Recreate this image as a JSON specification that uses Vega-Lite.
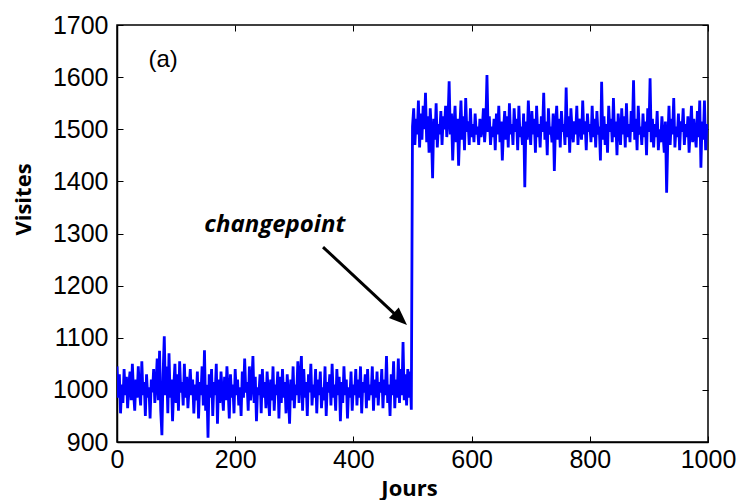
{
"$schema": "https://vega.github.io/schema/vega-lite/v6.json",
"width": 591,
"height": 417,
"autosize": {"type": "none"},
"padding": {"left": 117, "top": 25, "right": 32, "bottom": 58},
"background": "white",
"config": {
  "view": {"stroke": "black", "strokeWidth": 1.5},
  "axis": {
    "grid": false,
    "domainColor": "black",
    "domainWidth": 1.5,
    "tickColor": "black",
    "tickWidth": 1,
    "tickSize": -6,
    "labelFont": "Liberation Sans",
    "labelFontSize": 25,
    "labelColor": "black",
    "labelFlush": false,
    "format": "d",
    "titleFont": "Open Sans",
    "titleFontWeight": "bold",
    "titleFontSize": 22,
    "titleColor": "black"
  }
},
"datasets": {
"series": [
{"day":0,"visits":1045},{"day":2,"visits":985},{"day":4,"visits":1030},{"day":6,"visits":955},{"day":8,"visits":1010},{"day":10,"visits":975},{"day":12,"visits":1040},{"day":14,"visits":990},{"day":16,"visits":1025},{"day":18,"visits":965},
{"day":20,"visits":1010},{"day":22,"visits":1035},{"day":24,"visits":980},{"day":26,"visits":1050},{"day":28,"visits":995},{"day":30,"visits":960},{"day":32,"visits":1020},{"day":34,"visits":985},{"day":36,"visits":1045},{"day":38,"visits":1000},
{"day":40,"visits":970},{"day":42,"visits":1055},{"day":44,"visits":990},{"day":46,"visits":1015},{"day":48,"visits":950},{"day":50,"visits":1030},{"day":52,"visits":985},{"day":54,"visits":1005},{"day":56,"visits":945},{"day":58,"visits":1020},
{"day":60,"visits":995},{"day":62,"visits":1040},{"day":64,"visits":975},{"day":66,"visits":1010},{"day":68,"visits":1060},{"day":70,"visits":980},{"day":72,"visits":1075},{"day":74,"visits":960},{"day":76,"visits":913},{"day":78,"visits":1030},
{"day":80,"visits":1103},{"day":82,"visits":990},{"day":84,"visits":1045},{"day":86,"visits":955},{"day":88,"visits":1070},{"day":90,"visits":985},{"day":92,"visits":1020},{"day":94,"visits":940},{"day":96,"visits":1005},{"day":98,"visits":1050},
{"day":100,"visits":975},{"day":102,"visits":1030},{"day":104,"visits":960},{"day":106,"visits":1055},{"day":108,"visits":995},{"day":110,"visits":1015},{"day":112,"visits":970},{"day":114,"visits":1050},{"day":116,"visits":985},{"day":118,"visits":1025},
{"day":120,"visits":965},{"day":122,"visits":1005},{"day":124,"visits":1040},{"day":126,"visits":990},{"day":128,"visits":1020},{"day":130,"visits":955},{"day":132,"visits":1010},{"day":134,"visits":980},{"day":136,"visits":1035},{"day":138,"visits":945},
{"day":140,"visits":1015},{"day":142,"visits":990},{"day":144,"visits":1045},{"day":146,"visits":970},{"day":148,"visits":1076},{"day":150,"visits":960},{"day":152,"visits":1010},{"day":154,"visits":908},{"day":156,"visits":1030},{"day":158,"visits":985},
{"day":160,"visits":1040},{"day":162,"visits":950},{"day":164,"visits":1015},{"day":166,"visits":990},{"day":168,"visits":1050},{"day":170,"visits":935},{"day":172,"visits":1020},{"day":174,"visits":975},{"day":176,"visits":1035},{"day":178,"visits":995},
{"day":180,"visits":960},{"day":182,"visits":1025},{"day":184,"visits":980},{"day":186,"visits":1045},{"day":188,"visits":1000},{"day":190,"visits":945},{"day":192,"visits":1030},{"day":194,"visits":985},{"day":196,"visits":1010},{"day":198,"visits":955},
{"day":200,"visits":1040},{"day":202,"visits":990},{"day":204,"visits":1020},{"day":206,"visits":970},{"day":208,"visits":1005},{"day":210,"visits":950},{"day":212,"visits":1035},{"day":214,"visits":985},{"day":216,"visits":1060},{"day":218,"visits":995},
{"day":220,"visits":1015},{"day":222,"visits":960},{"day":224,"visits":1045},{"day":226,"visits":980},{"day":228,"visits":1010},{"day":230,"visits":1065},{"day":232,"visits":975},{"day":234,"visits":1025},{"day":236,"visits":940},{"day":238,"visits":1005},
{"day":240,"visits":990},{"day":242,"visits":1030},{"day":244,"visits":955},{"day":246,"visits":1040},{"day":248,"visits":985},{"day":250,"visits":1015},{"day":252,"visits":965},{"day":254,"visits":1035},{"day":256,"visits":995},{"day":258,"visits":950},
{"day":260,"visits":1020},{"day":262,"visits":980},{"day":264,"visits":1045},{"day":266,"visits":960},{"day":268,"visits":1010},{"day":270,"visits":990},{"day":272,"visits":1035},{"day":274,"visits":945},{"day":276,"visits":1025},{"day":278,"visits":975},
{"day":280,"visits":1040},{"day":282,"visits":985},{"day":284,"visits":1015},{"day":286,"visits":955},{"day":288,"visits":1030},{"day":290,"visits":990},{"day":292,"visits":935},{"day":294,"visits":1020},{"day":296,"visits":980},{"day":298,"visits":1045},
{"day":300,"visits":965},{"day":302,"visits":1010},{"day":304,"visits":990},{"day":306,"visits":1055},{"day":308,"visits":975},{"day":310,"visits":1025},{"day":312,"visits":1065},{"day":314,"visits":960},{"day":316,"visits":1040},{"day":318,"visits":985},
{"day":320,"visits":1015},{"day":322,"visits":950},{"day":324,"visits":1030},{"day":326,"visits":995},{"day":328,"visits":1050},{"day":330,"visits":970},{"day":332,"visits":1010},{"day":334,"visits":985},{"day":336,"visits":1040},{"day":338,"visits":955},
{"day":340,"visits":1020},{"day":342,"visits":990},{"day":344,"visits":1035},{"day":346,"visits":965},{"day":348,"visits":1005},{"day":350,"visits":980},{"day":352,"visits":1045},{"day":354,"visits":950},{"day":356,"visits":1015},{"day":358,"visits":995},
{"day":360,"visits":1030},{"day":362,"visits":970},{"day":364,"visits":1050},{"day":366,"visits":985},{"day":368,"visits":1010},{"day":370,"visits":960},{"day":372,"visits":1040},{"day":374,"visits":990},{"day":376,"visits":1025},{"day":378,"visits":940},
{"day":380,"visits":1015},{"day":382,"visits":975},{"day":384,"visits":1045},{"day":386,"visits":990},{"day":388,"visits":1020},{"day":390,"visits":945},{"day":392,"visits":1005},{"day":394,"visits":985},{"day":396,"visits":1035},{"day":398,"visits":960},
{"day":400,"visits":1010},{"day":402,"visits":990},{"day":404,"visits":1040},{"day":406,"visits":970},{"day":408,"visits":1020},{"day":410,"visits":985},{"day":412,"visits":1045},{"day":414,"visits":955},{"day":416,"visits":1015},{"day":418,"visits":995},
{"day":420,"visits":1030},{"day":422,"visits":965},{"day":424,"visits":1040},{"day":426,"visits":980},{"day":428,"visits":1010},{"day":430,"visits":990},{"day":432,"visits":1045},{"day":434,"visits":960},{"day":436,"visits":1020},{"day":438,"visits":985},
{"day":440,"visits":1035},{"day":442,"visits":970},{"day":444,"visits":1015},{"day":446,"visits":995},{"day":448,"visits":1040},{"day":450,"visits":965},{"day":452,"visits":1020},{"day":454,"visits":990},{"day":456,"visits":1065},{"day":458,"visits":975},
{"day":460,"visits":1010},{"day":462,"visits":950},{"day":464,"visits":1030},{"day":466,"visits":990},{"day":468,"visits":1055},{"day":470,"visits":965},{"day":472,"visits":1020},{"day":474,"visits":985},{"day":476,"visits":1060},{"day":478,"visits":975},
{"day":480,"visits":1040},{"day":482,"visits":990},{"day":484,"visits":1092},{"day":486,"visits":980},{"day":488,"visits":1030},{"day":490,"visits":970},{"day":492,"visits":1040},{"day":494,"visits":985},{"day":496,"visits":1035},{"day":498,"visits":962},
{"day":500,"visits":1505},{"day":502,"visits":1540},{"day":504,"visits":1470},{"day":506,"visits":1520},{"day":508,"visits":1490},{"day":510,"visits":1555},{"day":512,"visits":1465},{"day":514,"visits":1530},{"day":516,"visits":1480},{"day":518,"visits":1545},
{"day":520,"visits":1500},{"day":522,"visits":1570},{"day":524,"visits":1475},{"day":526,"visits":1525},{"day":528,"visits":1455},{"day":530,"visits":1540},{"day":532,"visits":1495},{"day":534,"visits":1406},{"day":536,"visits":1520},{"day":538,"visits":1480},
{"day":540,"visits":1550},{"day":542,"visits":1465},{"day":544,"visits":1510},{"day":546,"visits":1490},{"day":548,"visits":1535},{"day":550,"visits":1470},{"day":552,"visits":1525},{"day":554,"visits":1500},{"day":556,"visits":1545},{"day":558,"visits":1485},
{"day":560,"visits":1515},{"day":562,"visits":1592},{"day":564,"visits":1490},{"day":566,"visits":1530},{"day":568,"visits":1440},{"day":570,"visits":1505},{"day":572,"visits":1545},{"day":574,"visits":1475},{"day":576,"visits":1520},{"day":578,"visits":1430},
{"day":580,"visits":1500},{"day":582,"visits":1555},{"day":584,"visits":1480},{"day":586,"visits":1525},{"day":588,"visits":1460},{"day":590,"visits":1560},{"day":592,"visits":1495},{"day":594,"visits":1515},{"day":596,"visits":1470},{"day":598,"visits":1540},
{"day":600,"visits":1485},{"day":602,"visits":1510},{"day":604,"visits":1475},{"day":606,"visits":1530},{"day":608,"visits":1490},{"day":610,"visits":1505},{"day":612,"visits":1470},{"day":614,"visits":1520},{"day":616,"visits":1485},{"day":618,"visits":1500},
{"day":620,"visits":1540},{"day":622,"visits":1475},{"day":624,"visits":1510},{"day":626,"visits":1604},{"day":628,"visits":1495},{"day":630,"visits":1525},{"day":632,"visits":1470},{"day":634,"visits":1505},{"day":636,"visits":1485},{"day":638,"visits":1520},
{"day":640,"visits":1460},{"day":642,"visits":1530},{"day":644,"visits":1490},{"day":646,"visits":1545},{"day":648,"visits":1475},{"day":650,"visits":1515},{"day":652,"visits":1440},{"day":654,"visits":1500},{"day":656,"visits":1535},{"day":658,"visits":1480},
{"day":660,"visits":1525},{"day":662,"visits":1465},{"day":664,"visits":1550},{"day":666,"visits":1490},{"day":668,"visits":1510},{"day":670,"visits":1470},{"day":672,"visits":1540},{"day":674,"visits":1495},{"day":676,"visits":1520},{"day":678,"visits":1460},
{"day":680,"visits":1545},{"day":682,"visits":1485},{"day":684,"visits":1505},{"day":686,"visits":1470},{"day":688,"visits":1530},{"day":690,"visits":1389},{"day":692,"visits":1515},{"day":694,"visits":1480},{"day":696,"visits":1555},{"day":698,"visits":1500},
{"day":700,"visits":1470},{"day":702,"visits":1535},{"day":704,"visits":1490},{"day":706,"visits":1520},{"day":708,"visits":1455},{"day":710,"visits":1545},{"day":712,"visits":1485},{"day":714,"visits":1510},{"day":716,"visits":1465},{"day":718,"visits":1525},
{"day":720,"visits":1495},{"day":722,"visits":1570},{"day":724,"visits":1480},{"day":726,"visits":1515},{"day":728,"visits":1450},{"day":730,"visits":1540},{"day":732,"visits":1490},{"day":734,"visits":1505},{"day":736,"visits":1475},{"day":738,"visits":1530},
{"day":740,"visits":1420},{"day":742,"visits":1510},{"day":744,"visits":1545},{"day":746,"visits":1480},{"day":748,"visits":1520},{"day":750,"visits":1465},{"day":752,"visits":1535},{"day":754,"visits":1495},{"day":756,"visits":1510},{"day":758,"visits":1470},
{"day":760,"visits":1580},{"day":762,"visits":1485},{"day":764,"visits":1525},{"day":766,"visits":1455},{"day":768,"visits":1540},{"day":770,"visits":1500},{"day":772,"visits":1475},{"day":774,"visits":1515},{"day":776,"visits":1490},{"day":778,"visits":1545},
{"day":780,"visits":1470},{"day":782,"visits":1520},{"day":784,"visits":1505},{"day":786,"visits":1480},{"day":788,"visits":1555},{"day":790,"visits":1490},{"day":792,"visits":1515},{"day":794,"visits":1460},{"day":796,"visits":1530},{"day":798,"visits":1495},
{"day":800,"visits":1510},{"day":802,"visits":1475},{"day":804,"visits":1545},{"day":806,"visits":1485},{"day":808,"visits":1520},{"day":810,"visits":1465},{"day":812,"visits":1535},{"day":814,"visits":1490},{"day":816,"visits":1505},{"day":818,"visits":1440},
{"day":820,"visits":1591},{"day":822,"visits":1480},{"day":824,"visits":1525},{"day":826,"visits":1470},{"day":828,"visits":1510},{"day":830,"visits":1455},{"day":832,"visits":1545},{"day":834,"visits":1495},{"day":836,"visits":1520},{"day":838,"visits":1475},
{"day":840,"visits":1560},{"day":842,"visits":1485},{"day":844,"visits":1515},{"day":846,"visits":1450},{"day":848,"visits":1530},{"day":850,"visits":1500},{"day":852,"visits":1470},{"day":854,"visits":1540},{"day":856,"visits":1490},{"day":858,"visits":1525},
{"day":860,"visits":1465},{"day":862,"visits":1550},{"day":864,"visits":1485},{"day":866,"visits":1510},{"day":868,"visits":1475},{"day":870,"visits":1535},{"day":872,"visits":1495},{"day":874,"visits":1594},{"day":876,"visits":1480},{"day":878,"visits":1520},
{"day":880,"visits":1460},{"day":882,"visits":1545},{"day":884,"visits":1490},{"day":886,"visits":1505},{"day":888,"visits":1470},{"day":890,"visits":1530},{"day":892,"visits":1485},{"day":894,"visits":1515},{"day":896,"visits":1450},{"day":898,"visits":1540},
{"day":900,"visits":1495},{"day":902,"visits":1598},{"day":904,"visits":1475},{"day":906,"visits":1520},{"day":908,"visits":1465},{"day":910,"visits":1510},{"day":912,"visits":1485},{"day":914,"visits":1535},{"day":916,"visits":1460},{"day":918,"visits":1500},
{"day":920,"visits":1475},{"day":922,"visits":1525},{"day":924,"visits":1490},{"day":926,"visits":1455},{"day":928,"visits":1515},{"day":930,"visits":1378},{"day":932,"visits":1480},{"day":934,"visits":1545},{"day":936,"visits":1470},{"day":938,"visits":1520},
{"day":940,"visits":1490},{"day":942,"visits":1560},{"day":944,"visits":1465},{"day":946,"visits":1505},{"day":948,"visits":1485},{"day":950,"visits":1530},{"day":952,"visits":1460},{"day":954,"visits":1515},{"day":956,"visits":1495},{"day":958,"visits":1540},
{"day":960,"visits":1470},{"day":962,"visits":1510},{"day":964,"visits":1485},{"day":966,"visits":1525},{"day":968,"visits":1455},{"day":970,"visits":1500},{"day":972,"visits":1545},{"day":974,"visits":1475},{"day":976,"visits":1520},{"day":978,"visits":1490},
{"day":980,"visits":1465},{"day":982,"visits":1535},{"day":984,"visits":1485},{"day":986,"visits":1555},{"day":988,"visits":1426},{"day":990,"visits":1515},{"day":992,"visits":1480},{"day":994,"visits":1555},{"day":996,"visits":1460},{"day":998,"visits":1510}
]
},
"layer": [
  {
    "data": {"name": "series"},
    "mark": {"type": "line", "color": "#0000ff", "strokeWidth": 2.8, "clip": true},
    "encoding": {
      "x": {"field": "day", "type": "quantitative",
        "scale": {"domain": [0, 1000], "nice": false},
        "axis": {"orient": "bottom", "title": "Jours", "values": [0, 200, 400, 600, 800, 1000],
          "labelPadding": 11, "titleX": 292, "titleY": 46, "titleBaseline": "middle", "titleAlign": "center"}},
      "y": {"field": "visits", "type": "quantitative",
        "scale": {"domain": [900, 1700], "nice": false, "zero": false},
        "axis": {"orient": "left", "title": "Visites", "values": [900, 1000, 1100, 1200, 1300, 1400, 1500, 1600, 1700],
          "labelPadding": 15, "titleX": -94, "titleY": 174, "titleBaseline": "middle", "titleAlign": "center", "titleAngle": -90}}
    }
  },
  {
    "data": {"values": [{"x": 348.6, "y": 1274, "xe": 482, "ye": 1133}]},
    "mark": {"type": "rule", "color": "black", "strokeWidth": 3},
    "encoding": {
      "x": {"field": "x", "type": "quantitative", "scale": {"domain": [0, 1000], "nice": false},
        "axis": {"orient": "top", "labels": false, "title": null, "values": [0, 200, 400, 600, 800, 1000], "domain": false}},
      "y": {"field": "y", "type": "quantitative", "scale": {"domain": [900, 1700], "nice": false, "zero": false},
        "axis": {"orient": "right", "labels": false, "title": null, "values": [900, 1000, 1100, 1200, 1300, 1400, 1500, 1600, 1700], "domain": false}},
      "x2": {"field": "xe"},
      "y2": {"field": "ye"}
    }
  },
  {
    "data": {"values": [{"x": 490.7, "y": 1124.4}]},
    "mark": {"type": "point", "shape": "M0,0L-2,-0.8L-2,0.8Z", "filled": true, "color": "black", "opacity": 1, "size": 324, "angle": 43},
    "encoding": {
      "x": {"field": "x", "type": "quantitative", "axis": null},
      "y": {"field": "y", "type": "quantitative", "axis": null}
    }
  },
  {
    "data": {"values": [{"x": 78, "y": 1633, "label": "(a)"}]},
    "mark": {"type": "text", "font": "Liberation Sans", "fontSize": 24, "color": "black", "baseline": "middle", "align": "center"},
    "encoding": {
      "x": {"field": "x", "type": "quantitative", "axis": null},
      "y": {"field": "y", "type": "quantitative", "axis": null},
      "text": {"field": "label"}
    }
  },
  {
    "data": {"values": [{"x": 267, "y": 1316, "label": "changepoint"}]},
    "mark": {"type": "text", "font": "Open Sans", "fontSize": 24, "fontWeight": "bold", "fontStyle": "italic", "color": "black", "baseline": "middle", "align": "center"},
    "encoding": {
      "x": {"field": "x", "type": "quantitative", "axis": null},
      "y": {"field": "y", "type": "quantitative", "axis": null},
      "text": {"field": "label"}
    }
  }
],
"resolve": {"axis": {"x": "independent", "y": "independent"}}
}
